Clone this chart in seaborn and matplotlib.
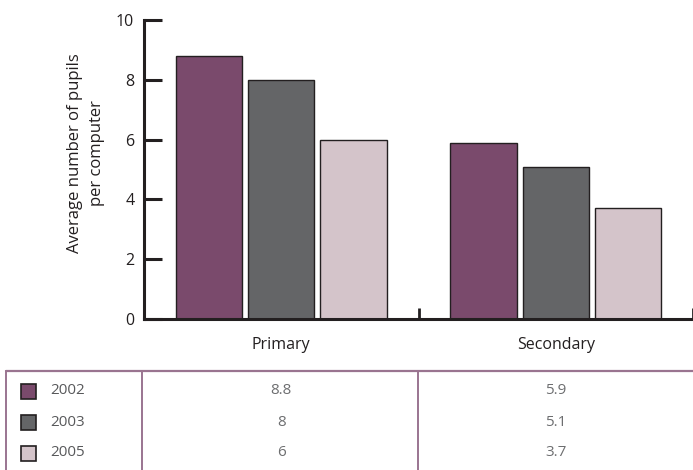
import pandas as pd
import matplotlib
matplotlib.use('Agg')
import matplotlib.pyplot as plt
import matplotlib.transforms as mtransforms
from matplotlib.patches import Rectangle
import seaborn as sns

# =========================
# DATA
# =========================
levels = ['Primary', 'Secondary']
years = ['2002', '2003', '2005']
pupils_2002 = [8.8, 5.9]
pupils_2003 = [8, 5.1]
pupils_2005 = [6, 3.7]
value_labels = [['8.8', '5.9'], ['8', '5.1'], ['6', '3.7']]
colors = ['#7a4a6c', '#646567', '#d4c4ca']

df = pd.DataFrame({
    'level': levels * 3,
    'year': [y for y in years for _ in levels],
    'pupils': pupils_2002 + pupils_2003 + pupils_2005,
})

sns.set_style('white')
plt.rcParams['font.family'] = ['Open Sans', 'DejaVu Sans']

dark = '#231f20'
W, H = 693, 470
fig = plt.figure(figsize=(W / 100, H / 100), dpi=100)
ax = fig.add_axes([144 / W, 1 - 319 / H, 549 / W, 299 / H])

sns.barplot(data=df, x='level', y='pupils', hue='year', order=levels,
            hue_order=years, palette=colors, saturation=1, width=0.79,
            gap=0.085, edgecolor=dark, linewidth=1.0, legend=False, ax=ax)

ax.set_xlim(-0.5, 1.5)
ax.set_ylim(0, 10)
ax.set_yticks(range(0, 11, 2))
ax.set_xlabel('')
ax.set_ylabel('')
sns.despine(ax=ax)
for s in ['left', 'bottom']:
    ax.spines[s].set_color(dark)
    ax.spines[s].set_linewidth(2.2)
ax.tick_params(axis='y', left=True, direction='in', length=13, width=2.2,
               color=dark, labelsize=11.5, labelcolor=dark, pad=7)
ax.tick_params(axis='x', which='major', length=0, labelsize=11.5,
               labelcolor=dark, pad=13)
ax.set_xticks([0.5, 1.5], minor=True)
ax.tick_params(axis='x', which='minor', bottom=True, direction='in',
               length=8, width=2, color=dark)

fig.text(86 / W, 1 - 153 / H, 'Average number of pupils\nper computer',
         rotation=90, ha='center', va='center', fontsize=12, color=dark,
         linespacing=1.45)

# =========================
# TABEL DATA
# =========================
ov = fig.add_axes([0, 0, 1, 1], zorder=-1)
ov.set_xlim(0, W)
ov.set_ylim(H, 0)
ov.axis('off')
line_c = '#9a7490'
ov.plot([6, W], [371, 371], color=line_c, lw=1.6)
for xv in [6, 142, 418]:
    ov.plot([xv, xv], [371, H], color=line_c, lw=1.4)

trans = mtransforms.blended_transform_factory(ax.transData, ov.transData)
row_y = [391, 422, 453]
for i, year in enumerate(years):
    ov.add_patch(Rectangle((21, row_y[i] - 7), 15, 15, facecolor=colors[i],
                           edgecolor=dark, lw=1.2))
    ov.text(50, row_y[i], year, ha='left', va='center', fontsize=11,
            color='#58595b')
    for j in range(len(levels)):
        ov.text(j, row_y[i], value_labels[i][j], transform=trans,
                ha='center', va='center', fontsize=11, color='#6d6e70')

fig.savefig('out.png', dpi=100)
